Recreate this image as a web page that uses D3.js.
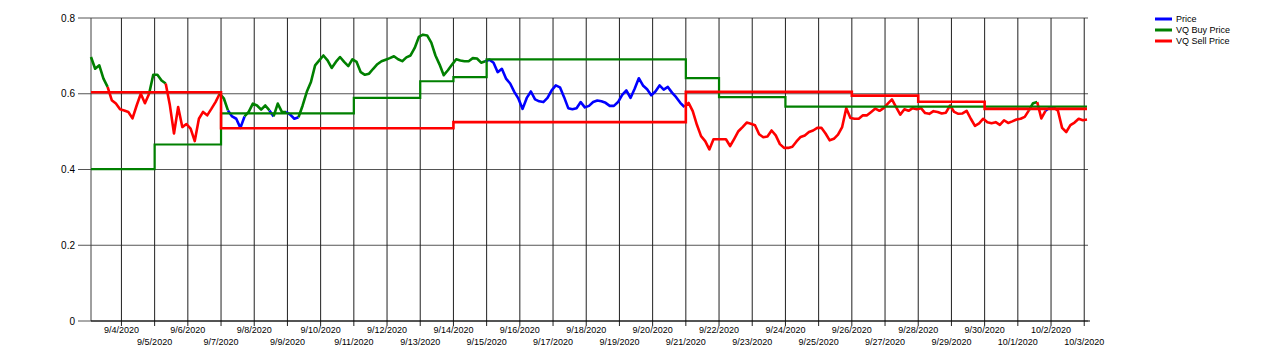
<!DOCTYPE html>
<html>
<head>
<meta charset="utf-8">
<script src="https://cdn.jsdelivr.net/npm/d3@7"></script>
<style>
  body { margin: 0; background: #fff; }
  text { font-family: "Liberation Sans", Arial, sans-serif; fill: #000; }
</style>
</head>
<body>
<script>
// Price is sampled every 3 hours starting 9/3/2020 02:00
const priceStart = "2020-09-03 02:00";
const priceStepHours = 3;
const priceValues = [
  0.697, 0.666, 0.675, 0.640, 0.618, 0.583, 0.574, 0.559, 0.556, 0.552, 0.535, 0.569,
  0.600, 0.575, 0.600, 0.650, 0.650, 0.635, 0.627, 0.570, 0.495, 0.565, 0.512, 0.520,
  0.508, 0.475, 0.534, 0.552, 0.543, 0.560, 0.578, 0.600, 0.588, 0.556, 0.540, 0.534,
  0.510, 0.540, 0.552, 0.574, 0.569, 0.558, 0.569, 0.556, 0.540, 0.574, 0.552, 0.552,
  0.545, 0.534, 0.538, 0.569, 0.605, 0.631, 0.675, 0.688, 0.701, 0.688,
  0.668, 0.684, 0.697, 0.684, 0.673, 0.691, 0.684, 0.657, 0.650, 0.653,
  0.666, 0.678, 0.686, 0.690, 0.694, 0.699, 0.691, 0.686, 0.696, 0.701,
  0.721, 0.750, 0.756, 0.754, 0.735, 0.701, 0.677, 0.649, 0.662, 0.677,
  0.691, 0.688, 0.686, 0.686, 0.694, 0.693, 0.682, 0.686, 0.690,
  0.682, 0.657, 0.666, 0.640, 0.627, 0.605, 0.587, 0.560, 0.589, 0.606,
  0.585, 0.580, 0.578, 0.589, 0.609, 0.622, 0.617, 0.591, 0.562, 0.559,
  0.562, 0.578, 0.564, 0.568, 0.578, 0.582, 0.580, 0.576, 0.568, 0.568,
  0.578, 0.597, 0.609, 0.589, 0.613, 0.641, 0.622, 0.612, 0.596, 0.606,
  0.622, 0.611, 0.618, 0.603, 0.591, 0.576, 0.565,
  0.576, 0.554, 0.518, 0.488, 0.475, 0.453, 0.480, 0.480, 0.480, 0.480,
  0.462, 0.481, 0.501, 0.512, 0.524, 0.521, 0.517, 0.493, 0.485, 0.487,
  0.503, 0.490, 0.467, 0.457, 0.457, 0.460, 0.474, 0.486, 0.490, 0.499,
  0.503, 0.510, 0.510, 0.495, 0.477, 0.481, 0.492, 0.512, 0.562, 0.536,
  0.534, 0.534, 0.543, 0.543, 0.552, 0.561, 0.555, 0.562, 0.574,
  0.585, 0.565, 0.545, 0.559, 0.555, 0.562, 0.559, 0.562, 0.549, 0.547,
  0.554, 0.552, 0.548, 0.550, 0.569, 0.552, 0.547, 0.548, 0.555, 0.534,
  0.515, 0.522, 0.534, 0.525, 0.522, 0.525, 0.518, 0.530, 0.523, 0.527,
  0.532, 0.534, 0.539, 0.556, 0.575, 0.578, 0.535, 0.555, 0.563, 0.564,
  0.555, 0.510, 0.499, 0.517, 0.524, 0.534, 0.530, 0.532
];

// VQ buy / sell prices change in steps
const buyDates  = ["2020-09-03 02:00", "2020-09-05 00:00", "2020-09-07 00:00", "2020-09-11 00:00",
                   "2020-09-13 00:00", "2020-09-14 00:00", "2020-09-15 00:00", "2020-09-21 00:00",
                   "2020-09-22 00:00", "2020-09-24 00:00"];
const buyValues = [0.401, 0.466, 0.548, 0.589, 0.633, 0.644, 0.691, 0.641, 0.591, 0.566];

const sellDates  = ["2020-09-03 02:00", "2020-09-07 00:00", "2020-09-14 00:00", "2020-09-21 00:00",
                    "2020-09-26 00:00", "2020-09-28 00:00", "2020-09-30 00:00"];
const sellValues = [0.604, 0.509, 0.525, 0.605, 0.595, 0.579, 0.560];

const yTicks = [0, 0.2, 0.4, 0.6, 0.8];
const seriesNames = ["Price", "VQ Buy Price", "VQ Sell Price"];
const seriesColors = ["#0000ff", "#008000", "#ff0000"];

const w = 1280, h = 363;
const plotLeft = 91, plotRight = 1087, plotTop = 18, plotBottom = 321;

const parseTime = d3.timeParse("%Y-%m-%d %H:%M");
const t0 = parseTime(priceStart);
const priceDates = priceValues.map((v, i) => d3.timeHour.offset(t0, i * priceStepHours));
const tEnd = priceDates[priceDates.length - 1];

const xScale = d3.scaleTime().domain([t0, tEnd]).range([plotLeft, plotRight]);
const yScale = d3.scaleLinear().domain([0, 0.8]).range([plotBottom, plotTop]);

const svg = d3.select("body").append("svg")
  .attr("width", w)
  .attr("height", h);

// step series as [date, value] with the last value carried to the end
function stepPoints(dates, values) {
  const pts = dates.map((d, i) => [parseTime(d), values[i]]);
  pts.push([tEnd, values[values.length - 1]]);
  return pts;
}
const buyPts = stepPoints(buyDates, buyValues);
const sellPts = stepPoints(sellDates, sellValues);

function stepValue(pts, t) {
  let v = pts[0][1];
  pts.forEach(p => { if (p[0] <= t) v = p[1]; });
  return v;
}

// grid
const days = d3.timeDay.range(d3.timeDay.ceil(t0), d3.timeDay.offset(d3.timeDay.floor(tEnd), 1));

svg.append("g")
  .selectAll("line")
  .data(yTicks)
  .enter()
  .append("line")
  .attr("x1", 78)
  .attr("x2", plotRight + 1)
  .attr("y1", d => yScale(d))
  .attr("y2", d => yScale(d))
  .attr("stroke", "#555")
  .attr("stroke-width", 1);

svg.append("g")
  .selectAll("line")
  .data(days)
  .enter()
  .append("line")
  .attr("x1", d => xScale(d))
  .attr("x2", d => xScale(d))
  .attr("y1", plotTop)
  .attr("y2", plotBottom + 5)
  .attr("stroke", "#202020")
  .attr("stroke-width", 1);

// left axis line
svg.append("line")
  .attr("x1", plotLeft).attr("x2", plotLeft)
  .attr("y1", plotTop).attr("y2", plotBottom)
  .attr("stroke", "#404040");

// bottom axis line
svg.append("line")
  .attr("x1", plotLeft).attr("x2", plotRight + 3)
  .attr("y1", plotBottom).attr("y2", plotBottom)
  .attr("stroke", "#000");

// y labels
svg.append("g")
  .selectAll("text")
  .data(yTicks)
  .enter()
  .append("text")
  .attr("x", 75)
  .attr("y", d => yScale(d))
  .attr("text-anchor", "end")
  .attr("dominant-baseline", "central")
  .style("font-size", "10px")
  .text(d => String(d));

// x labels, alternating rows
const fmt = d3.timeFormat("%-m/%-d/%Y");
svg.append("g")
  .selectAll("text")
  .data(days)
  .enter()
  .append("text")
  .attr("x", d => xScale(d))
  .attr("y", (d, i) => i % 2 === 0 ? 330 : 342)
  .attr("text-anchor", "middle")
  .attr("dominant-baseline", "central")
  .style("font-size", "9px")
  .text(d => fmt(d));

// price line, coloured against the buy / sell levels
const priceColor = priceValues.map((v, i) => {
  const t = priceDates[i];
  if (v < stepValue(sellPts, t)) return seriesColors[2];
  if (v > stepValue(buyPts, t)) return seriesColors[1];
  return seriesColors[0];
});

const line = d3.line()
  .x(d => xScale(d[0]))
  .y(d => yScale(d[1]));

const runs = [];
for (let i = 1; i < priceValues.length; i++) {
  const c = priceColor[i];
  const last = runs[runs.length - 1];
  if (last && last.color === c) {
    last.pts.push([priceDates[i], priceValues[i]]);
  } else {
    runs.push({ color: c, pts: [[priceDates[i - 1], priceValues[i - 1]], [priceDates[i], priceValues[i]]] });
  }
}

svg.append("g")
  .selectAll("path")
  .data(runs)
  .enter()
  .append("path")
  .attr("d", d => line(d.pts))
  .attr("fill", "none")
  .attr("stroke", d => d.color)
  .attr("stroke-width", 2.6)
  .attr("stroke-linejoin", "round");

const stepLine = d3.line()
  .x(d => xScale(d[0]))
  .y(d => yScale(d[1]))
  .curve(d3.curveStepAfter);

svg.append("path")
  .attr("d", stepLine(buyPts))
  .attr("fill", "none")
  .attr("stroke", seriesColors[1])
  .attr("stroke-width", 2.2);

svg.append("path")
  .attr("d", stepLine(sellPts))
  .attr("fill", "none")
  .attr("stroke", seriesColors[2])
  .attr("stroke-width", 2.6);

// legend
const legend = svg.append("g")
  .selectAll("g")
  .data(seriesNames)
  .enter()
  .append("g")
  .attr("transform", (d, i) => `translate(1155, ${19 + i * 11})`);

legend.append("line")
  .attr("x1", 0).attr("x2", 17)
  .attr("stroke", (d, i) => seriesColors[i])
  .attr("stroke-width", 3);

legend.append("text")
  .attr("x", 21)
  .attr("dominant-baseline", "central")
  .style("font-size", "9px")
  .text(d => d);
</script>
</body>
</html>
